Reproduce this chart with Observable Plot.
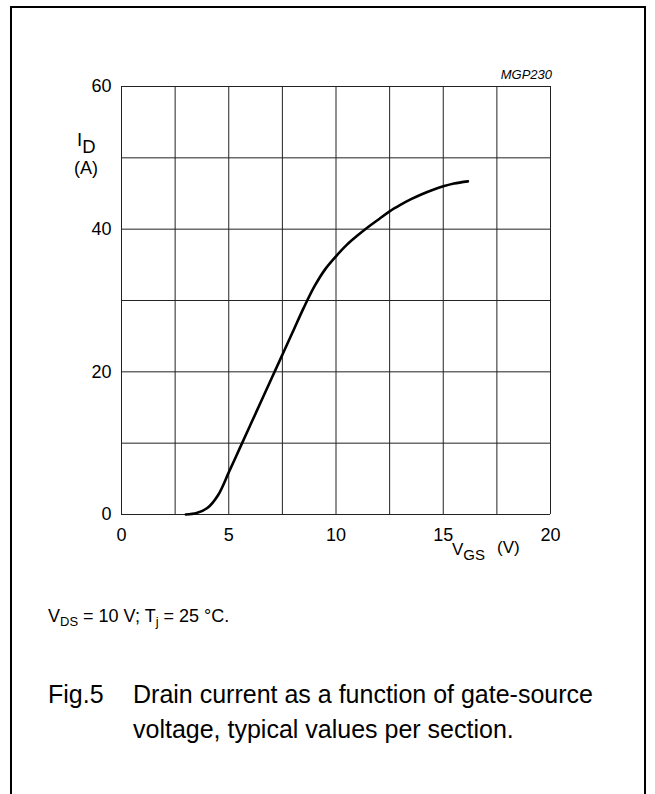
<!DOCTYPE html>
<html><head><meta charset="utf-8">
<script src="https://cdn.jsdelivr.net/npm/d3@7"></script>
<script src="https://cdn.jsdelivr.net/npm/@observablehq/plot@0.6"></script>
<style>
html,body{margin:0;padding:0;background:#fff;}
#page{position:relative;width:655px;height:794px;overflow:hidden;font-family:"Liberation Sans",Arial,sans-serif;}
#frame{position:absolute;left:10px;top:6px;width:632px;height:900px;border:2px solid #000;}
#chart{position:absolute;left:0;top:0;}
#notes{position:absolute;left:0;top:0;}
</style></head><body>
<div id="page"><div id="frame"></div><div id="chart"></div><svg id="notes" width="655" height="794"></svg></div>
<script>
// V_GS (V) and I_D (A)
const vgs = [3.0, 3.5, 4.0, 4.5, 5.0, 5.5, 6.0, 6.5, 7.0, 7.5, 8.0, 8.5, 9.0, 9.5, 10.0, 10.5, 11.0, 11.5, 12.0, 12.5, 13.0, 13.5, 14.0, 14.5, 15.0, 15.5, 16.15];
const idA = [0, 0.2, 0.9, 2.7, 5.9, 9.2, 12.5, 15.8, 19.1, 22.4, 25.7, 29.0, 32.0, 34.4, 36.2, 37.8, 39.1, 40.3, 41.4, 42.5, 43.4, 44.2, 44.9, 45.5, 46.0, 46.4, 46.7];
const xTicks = [0, 5, 10, 15, 20];
const yTicks = [0, 20, 40, 60];
const xGrid = [0, 2.5, 5, 7.5, 10, 12.5, 15, 17.5, 20];
const yGrid = [0, 10, 20, 30, 40, 50, 60];

const data = vgs.map((v, i) => ({vgs: v, id: idA[i]}));
const font = '"Liberation Sans", Arial, sans-serif';

const chart = Plot.plot({
  width: 655, height: 570,
  marginLeft: 121, marginRight: 105, marginTop: 86, marginBottom: 56,
  style: {fontFamily: font, fontSize: "18px", background: "transparent", color: "#000"},
  x: {domain: [0, 20], ticks: xTicks, tickSize: 0, tickPadding: 14, label: null},
  y: {domain: [0, 60], ticks: yTicks, tickSize: 0, tickPadding: 10, label: null},
  marks: [
    Plot.ruleX(xGrid, {stroke: "#222", strokeWidth: 1}),
    Plot.ruleY(yGrid, {stroke: "#222", strokeWidth: 1}),
    Plot.line(data, {x: "vgs", y: "id", stroke: "#000", strokeWidth: 2.6, curve: "catmull-rom"})
  ]
});
document.getElementById("chart").appendChild(chart);

const notes = d3.select("#notes").attr("font-family", font).attr("fill", "#000");
function txt(x, y, size, parts, opts = {}) {
  const t = notes.append("text").attr("x", x).attr("y", y).attr("font-size", size);
  if (opts.anchor) t.attr("text-anchor", opts.anchor);
  if (opts.italic) t.attr("font-style", "italic");
  parts.forEach(p => {
    const s = t.append("tspan").text(p.t);
    if (p.size) s.attr("font-size", p.size);
    if (p.dy) s.attr("dy", p.dy);
  });
  t.attr("xml:space", "preserve");
  return t;
}
txt(552, 79, 13, [{t: "MGP230"}], {anchor: "end", italic: true});
txt(77, 146, 18.5, [{t: "I"}, {t: "D", dy: 7}]);
txt(74, 174, 18, [{t: "(A)"}]);
txt(452, 555, 17, [{t: "V"}, {t: "GS", size: 15, dy: 5}]);
txt(497, 553, 17, [{t: "(V)"}]);
txt(48, 622, 18, [{t: "V"}, {t: "DS", size: 13, dy: 4}, {t: " = 10 V; T", dy: -4}, {t: "j", size: 13, dy: 4}, {t: " = 25 °C.", dy: -4}]);
txt(48, 703, 25, [{t: "Fig.5"}]);
txt(133, 703, 25, [{t: "Drain current as a function of gate-source"}]);
txt(133, 738, 25, [{t: "voltage, typical values per section."}]);
</script>
</body></html>
